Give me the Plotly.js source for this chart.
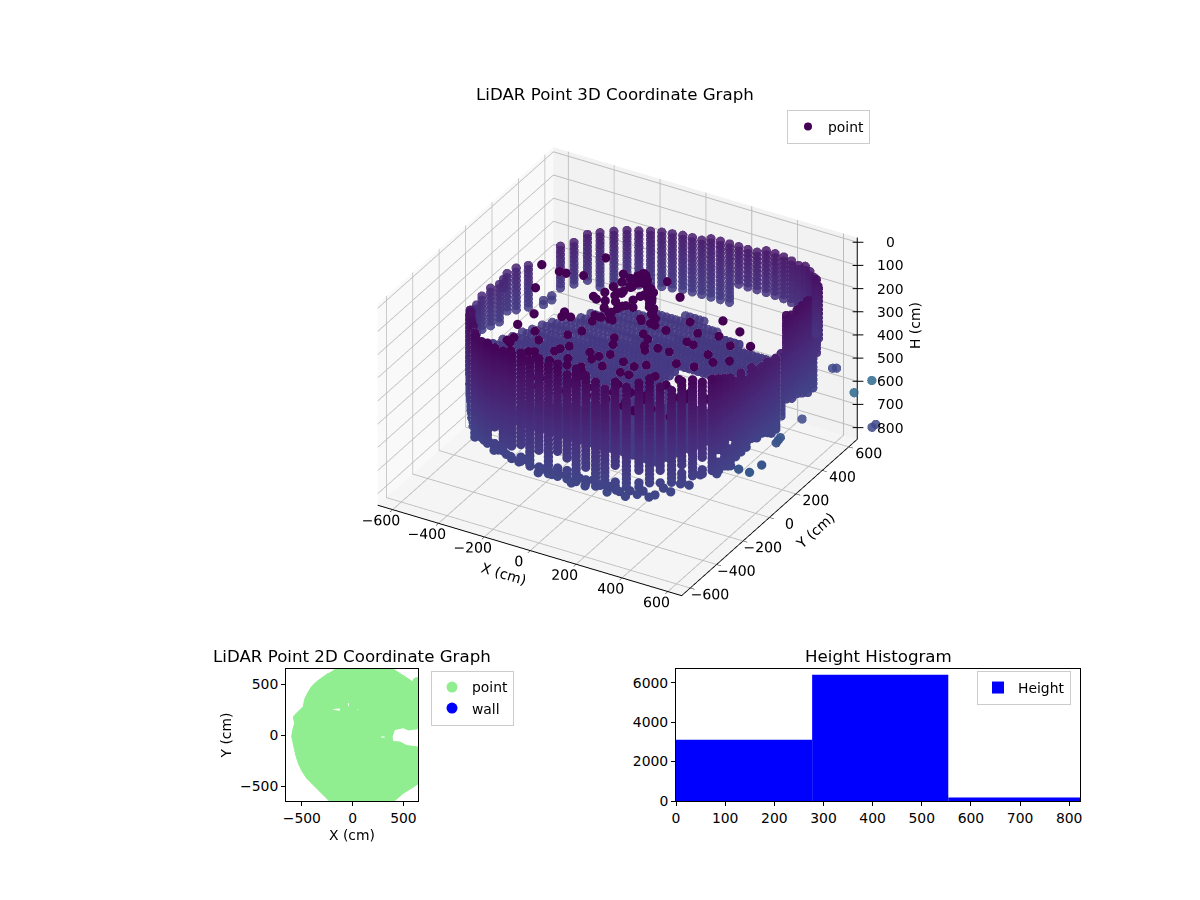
<!DOCTYPE html>
<html>
<head>
<meta charset="utf-8">
<script src="https://cdn.plot.ly/plotly-3.0.1.min.js"></script>
<style>body { margin: 0; background: #fff; }</style>
</head>
<body>
<div id="graphDiv" style="width:1200px;height:900px"></div>
<script>
// wall columns, one x/y per scan column
var wallX = [-320,-290,-250,-210,-170,-130,-90,-50,-10,30,70,110,150,190,230,270,310,350,390,430,465,500,535,565,595,620,640,645,648,650,650,650,650,650,
    650,650,650,650,650,650,650,650,640,625,600,570,540,505,470,430,390,350,310,270,230,190,150,110,70,30,-10,-50,-90,-130,-170,-210,-250,-290,-330,-370,-405,-435,-465,-480,-490,-530,-560,-585,-575,-570,-585,-600,-600,-595,-585,-560,-530,-510,-490,-465,-440,-415,-385,-350,650,650,650,650];
var wallY = [-530,-575,-600,-625,-640,-645,-650,-650,-652,-652,-650,-650,-648,-648,-645,-640,-640,-630,-615,-590,-570,-550,-525,-500,-470,-440,-400,-360,-320,-280,-240,-200,-160,-120,
    65,105,145,185,225,265,305,345,390,430,470,510,545,575,600,620,635,645,650,652,652,652,652,652,652,650,650,648,645,635,625,610,590,570,540,505,470,420,370,330,285,240,200,175,130,90,50,10,-30,-70,-110,-145,-190,-235,-270,-310,-355,-395,-440,-490,-80,-40,0,30];
var wallTop = [57,48,39,36,34,28,30,18,20,10,32,14,39,18,27,50,57,35,54,30,16,45,58,25,30,50,41,60,75,100,144,126,167,144,
    195,190,50,55,61,66,71,76,83,89,96,103,110,116,122,128,133,137,141,144,147,150,153,156,159,162,165,167,170,172,173,174,175,175,174,176,180,185,195,205,215,220,230,235,241,243,245,258,273,280,287,250,213,180,153,130,108,95,85,70,170,175,180,190];
var wallBottom = [530,502,480,470,470,480,493,498,502,508,511,515,520,512,507,505,502,495,488,486,484,480,475,468,461,463,465,470,475,475,475,475,475,452,
    516,470,424,447,447,456,470,470,342,323,310,342,374,401,400,330,330,330,330,330,330,330,330,420,420,420,420,420,420,420,420,420,420,420,420,420,385,385,385,420,420,420,420,420,420,420,420,420,420,420,550,548,557,548,530,511,497,511,520,520,470,480,490,505];
var scanLevels = [0,18,36,54,72,90,108,126,144,162,180,198,216,234,252,270,288,306,324,342,360,378,396,414,432,450,468,486,504,522,540,558];
// gaps in the wall: column index, from height, to height
var wallGapCol = [78,73,74,4,7,9,11,14,17,19,21,23,25,27,29,6,12];
var wallGapFrom = [290,205,215,380,420,430,400,440,410,430,420,400,380,380,370,440,430];
var wallGapTo = [600,390,380,440,460,470,450,480,450,460,455,430,420,415,410,470,460];

// the flat ring/floor seen through the wall, one row per y
var discRowY = [-480,-440,-400,-360,-320,-280,-240,-200,-160,-120,-80,-40,0,40,80,120,160,200,240,280,320,360,400,440];
var discRowStart = [-300,-360,-400,-440,-470,-490,-500,-510,-510,-510,-500,-490,-470,-450,-420,-400,-380,-350,-310,-280,-240,-200,-60,40];
var discRowEnd = [450,480,510,530,550,560,570,580,590,590,340,240,200,200,200,400,590,580,570,550,530,330,200,120];
var discRowH = [430,425,420,415,412,408,405,400,402,398,400,396,398,394,396,392,395,390,392,388,390,386,388,385];
var discStepX = [-560,-540,-520,-500,-480,-460,-440,-420,-400,-380,-360,-340,-320,-300,-280,-260,-240,-220,-200,-180,-160,-140,-120,-100,-80,-60,-40,-20,0,20,40,60,80,100,120,140,160,180,200,220,240,260,280,300,320,340,360,380,400,420,440,460,480,500,520,540,560,580,600];

// loose points above the floor
var looseX = [-460,-430,-400,-390,-360,-340,-300,-280,-250,-220,-200,-170,-150,-120,-90,-60,-30,0,30,60,90,120,150,180,210,240,270,300,330,360,390,420,-420,-380,-330,-290,-240,-190,-140,-90,-40,10,60,110,160,210,260,310,360,410,450,-350,-300,-250,-200,-150,-100,-50,0,50,100,150,200,250,300,350,400,-280,-220,-160,-100,-40,20,80,140,200,260,320,
    -130,-110,-90,-70,-50,-30,-10,10,30,50,70,90,110,130,-120,-95,-70,-45,-20,5,30,55,80,105,-100,-70,-40,-10,20,50,80,-130,-105,-80,-55,-30,
    -60,-35,-15,15,40,65,95,120,-85,-50,-25,0,25,60,85,-110,-75,-60,-5,40,75,100,
    -339,-379,-219,-270,-135,-160,-216,-16,-27,68,-2,112,182,132,236,136,275,255,225,354,339,439,383,463];
var looseY = [220,120,300,40,180,-40,260,80,340,-100,160,20,300,-180,90,-260,220,-60,320,140,-140,260,40,-220,180,-300,100,-60,220,-160,40,120,-60,-160,-240,-120,-300,-40,-360,10,-200,-320,-420,-110,-280,-400,-240,-340,-80,-200,-120,-380,-440,-200,-480,-120,-420,-520,-280,-480,-360,-500,-440,-380,-480,-360,-300,60,0,100,-40,40,140,60,-30,40,-90,20,
    60,90,120,150,180,200,210,190,170,140,110,80,60,40,110,140,160,185,200,215,195,160,130,100,40,70,100,130,160,180,130,30,50,70,90,110,
    130,155,175,180,150,125,95,70,150,175,195,205,180,150,115,85,110,60,120,100,60,50,
    -253,-103,-300,-133,-286,-162,14,-252,-154,-238,-36,-155,-195,-28,-129,125,-37,78,211,66,173,80,256,198];
var looseH = [200,240,260,300,180,320,220,280,170,340,230,300,190,330,260,350,210,310,180,260,320,190,290,340,230,360,270,330,210,340,280,240,360,320,300,380,280,340,300,380,330,260,240,340,280,240,320,270,360,310,340,250,240,300,230,340,260,230,290,240,270,220,250,280,230,290,340,290,320,270,340,300,260,310,330,290,350,310,
    170,150,135,125,118,112,110,112,118,125,135,150,165,180,200,185,170,155,140,130,145,165,185,205,230,215,195,175,160,150,190,250,235,220,205,195,
    160,140,125,125,145,165,190,215,175,150,130,125,140,170,205,215,190,240,200,225,260,270,
    250,270,240,290,260,280,250,270,290,250,280,260,240,270,300,260,280,250,290,270,250,280,260,270];

// scattered low points behind the front wall
var strayX = [640,620,600,580,560,540,520,500,480,460,440,420,400,380,360,340,320,290,260,230,200,170,140,110,80,50,20,-10,-40,-70,-100,-130,-160,-190,-220,-250,-280,620,590,560,530,500,620,600,580];
var strayY = [-260,-330,-420,-470,-500,-540,-560,-590,-600,-610,-620,-640,-640,-650,-640,-650,-640,-640,-640,-650,-640,-650,-640,-650,-640,-650,-640,-650,-640,-630,-640,-620,-630,-610,-600,-580,-570,10,-30,-60,-90,-20,120,170,220];
var strayH = [500,505,470,495,480,500,480,500,510,485,500,480,510,490,495,480,515,495,480,510,490,515,495,480,510,490,520,495,480,505,485,495,480,500,475,490,480,640,660,640,620,620,600,620,640];

// points outside the box limits, drawn on the wider overlay scene
var outerX = [620,633,695,708,746,736,554];
var outerY = [547,555,580,691,655,644,431];
var outerH = [495,495,595,595,755,765,675];
var outerC = [550,550,850,850,550,550,550];

var zTicks = [0,100,200,300,400,500,600,700,800];
var zTickText = ['0','100','200','300','400','500','600','700','800'];

// 2D footprint outline and the holes in it
var footprintX = [-190,-130,384,430,466,515,564,610,663,720,720,646,600,550,499,440,384,-207,-265,-322,-390,-453,-500,-535,-560,-577,-592,-600,-590,-571,-578,-584,-570,-551,-515,-486,-478,-469,-440,-404,-350,-289,-240];
var footprintY = [640,660,660,632,610,580,545,505,446,446,-480,-478,-510,-540,-571,-620,-669,-669,-610,-554,-490,-423,-350,-276,-195,-112,-60,-13,50,118,150,177,200,217,250,282,325,364,420,479,530,577,610];
var holeX = [394,417,499,548,646,696,696,646,531,466,400,null,-190,-125,-125,-190,null,-45,-35,-38,-46,null,40,60,50,null,280,315,315,285];
var holeY = [-13,52,69,46,59,59,-112,-112,-95,-62,-56,null,259,262,240,250,null,315,315,285,288,null,259,255,250,null,-13,-13,-25,-22];
var pointX = [640];
var pointY = [520];
var wallLegendX = [null];
var wallLegendY = [null];

// height histogram
var histLeft = [0,277,554];
var histWidth = [277,277,277];
var histCount = [3110,6410,180];

var bands = [{x: [], y: [], h: [], op: 0.85}, {x: [], y: [], h: [], op: 0.95}, {x: [], y: [], h: [], op: 1}];

function addPoint(x, y, h) {
    var depth = x * 0.5 - y * 0.866;
    var b = depth < -200 ? 0 : (depth < 250 ? 1 : 2);
    bands[b].x.push(x);
    bands[b].y.push(y);
    bands[b].h.push(h);
}

function inGap(col, h) {
    for (var g = 0; g < wallGapCol.length; g++) {
        if (wallGapCol[g] == col && h >= wallGapFrom[g] && h <= wallGapTo[g]) {
            return true;
        }
    }
    return false;
}

for (var r = 0; r < discRowY.length; r++) {
    for (var s = 0; s < discStepX.length; s++) {
        if (discStepX[s] >= discRowStart[r] && discStepX[s] <= discRowEnd[r]) {
            addPoint(discStepX[s], discRowY[r], discRowH[r]);
        }
    }
}
for (var c = 0; c < wallX.length; c++) {
    for (var l = 0; l < scanLevels.length; l++) {
        if (scanLevels[l] >= wallTop[c] && scanLevels[l] <= wallBottom[c] && !inGap(c, scanLevels[l])) {
            addPoint(wallX[c], wallY[c], scanLevels[l]);
        }
    }
}
for (var k = 0; k < strayX.length; k++) {
    addPoint(strayX[k], strayY[k], strayH[k]);
}

var markerSize = 5.4;
var data = [];
for (var i = 0; i < bands.length; i++) {
    data.push({
        type: 'scatter3d',
        mode: 'markers',
        showlegend: false,
        x: bands[i].x,
        y: bands[i].y,
        z: bands[i].h,
        marker: {
            size: markerSize,
            color: bands[i].h,
            colorscale: 'Viridis',
            cmin: 0,
            cmax: 2400,
            opacity: bands[i].op,
            line: {width: 0}
        }
    });
}
data.push({
    type: 'scatter3d', mode: 'markers', showlegend: false,
    x: looseX, y: looseY, z: looseH,
    marker: {size: markerSize, color: '#440154', line: {width: 0}}
});
// legend holder, sits inside the dark clump
data.push({
    type: 'scatter3d', mode: 'markers', name: 'point', legend: 'legend',
    x: looseX.slice(84, 85), y: looseY.slice(84, 85), z: looseH.slice(84, 85),
    marker: {size: 8, color: '#440154', line: {width: 0}}
});
data.push({
    type: 'scatter3d', mode: 'markers', showlegend: false, scene: 'scene2',
    x: outerX, y: outerY, z: outerH,
    marker: {size: markerSize, color: outerC, colorscale: 'Viridis', cmin: 0, cmax: 2500, opacity: 0.85, line: {width: 0}}
});
// z axis on the right hand corner, the library puts its own on the other side
var zLineX = [660, 660, null], zLineY = [665, 665, null], zLineZ = [-20, 850, null];
for (var t = 0; t < zTicks.length; t++) {
    zLineX.push(645, 680, null);
    zLineY.push(656, 677, null);
    zLineZ.push(zTicks[t], zTicks[t], null);
}
data.push({
    type: 'scatter3d', mode: 'lines', showlegend: false, scene: 'scene2',
    x: zLineX, y: zLineY, z: zLineZ, line: {color: 'black', width: 2}
});
data.push({
    type: 'scatter', mode: 'lines', x: footprintX, y: footprintY, fill: 'toself', fillcolor: 'lightgreen',
    line: {color: 'lightgreen', width: 1}, xaxis: 'x', yaxis: 'y', showlegend: false, hoverinfo: 'skip'
});
data.push({
    type: 'scatter', mode: 'lines', x: holeX, y: holeY, fill: 'toself', fillcolor: 'white',
    line: {color: 'white', width: 0}, xaxis: 'x', yaxis: 'y', showlegend: false, hoverinfo: 'skip'
});
data.push({
    type: 'scatter', mode: 'markers', name: 'point', x: pointX, y: pointY, xaxis: 'x', yaxis: 'y', legend: 'legend2',
    marker: {color: 'lightgreen', size: 11}
});
data.push({
    type: 'scatter', mode: 'markers', name: 'wall', x: wallLegendX, y: wallLegendY, xaxis: 'x', yaxis: 'y', legend: 'legend2',
    marker: {color: 'blue', size: 11}
});
data.push({
    type: 'bar', name: 'Height', x: histLeft, y: histCount, width: histWidth, offset: 0, xaxis: 'x2', yaxis: 'y2', legend: 'legend3',
    marker: {color: 'blue', line: {width: 0}}, showlegend: true
});

var fontFamily = '"DejaVu Sans", sans-serif';

function sceneAxis(title, range, ticks, pane) {
    return {
        title: {text: title, font: {size: 14, color: 'black'}},
        range: range,
        autorange: false,
        tickmode: 'array',
        tickvals: ticks,
        tickangle: 0,
        tickfont: {size: 13, color: 'black'},
        backgroundcolor: pane,
        showbackground: true,
        gridcolor: '#bcbcbc',
        gridwidth: 2,
        showline: true,
        linecolor: 'black',
        linewidth: 2,
        ticks: 'outside',
        ticklen: 5,
        tickcolor: 'black',
        zeroline: false,
        showspikes: false
    };
}

function hiddenAxis(range) {
    return {range: range, autorange: false, visible: false, showspikes: false};
}

function planeAxis(domain, anchor, ticks, range, title) {
    var ax = {
        domain: domain,
        anchor: anchor,
        range: range,
        tickmode: 'array',
        tickvals: ticks,
        ticks: 'outside',
        ticklen: 4,
        tickwidth: 1,
        tickcolor: 'black',
        showgrid: false,
        zeroline: false,
        showline: true,
        mirror: true,
        linecolor: 'black',
        linewidth: 1,
        tickfont: {size: 13.9, color: 'black'}
    };
    if (title) {
        ax.title = {text: title, font: {size: 13.9, color: 'black'}, standoff: 5};
    }
    return ax;
}

var legendBase = {
    bgcolor: 'rgba(255,255,255,0.8)',
    bordercolor: '#cccccc',
    borderwidth: 1,
    xanchor: 'left',
    yanchor: 'middle',
    font: {size: 13.9, color: 'black'},
    itemsizing: 'trace'
};

var camera = {
    eye: {x: 1.764, y: -3.129, z: 1.953},
    center: {x: -0.034, y: -0.019, z: -0.204},
    up: {x: 0, y: 0, z: 1},
    projection: {type: 'orthographic'}
};

var zAnnotations = [];
for (var a = 0; a < zTicks.length; a++) {
    zAnnotations.push({x: 770, y: 729, z: zTicks[a], text: zTickText[a], showarrow: false, font: {size: 13.9, color: 'black'}});
}

function paperText(text, px, py, size, angle) {
    return {text: text, xref: 'paper', yref: 'paper', x: px / 1200, y: 1 - py / 900, xanchor: 'center', yanchor: 'middle',
        showarrow: false, textangle: angle, font: {size: size, color: 'black'}};
}

var layout = {
    width: 1200,
    height: 900,
    margin: {l: 0, r: 0, t: 0, b: 0},
    paper_bgcolor: 'white',
    plot_bgcolor: 'white',
    font: {family: fontFamily, color: 'black', size: 13.9},
    barmode: 'overlay',
    scene: {
        domain: {x: [0, 1], y: [0, 1]},
        bgcolor: 'rgba(0,0,0,0)',
        aspectmode: 'manual',
        aspectratio: {x: 0.78, y: 0.78, z: 0.5226},
        camera: camera,
        xaxis: sceneAxis('X (cm)', [-665, 660], [-600,-400,-200,0,200,400,600], '#f9f9f9'),
        yaxis: sceneAxis('Y (cm)', [-665, 665], [-600,-400,-200,0,200,400,600], '#f2f2f2'),
        zaxis: Object.assign(sceneAxis('', [850, -20], zTicks, '#f5f5f5'), {showticklabels: false, ticks: '', showline: false, title: {text: ''}})
    },
    scene2: {
        domain: {x: [0, 1], y: [0, 1]},
        bgcolor: 'rgba(0,0,0,0)',
        aspectmode: 'manual',
        aspectratio: {x: 1.177, y: 1.173, z: 0.783},
        camera: camera,
        xaxis: hiddenAxis([-1002.5, 997.5]),
        yaxis: hiddenAxis([-1000, 1000]),
        zaxis: hiddenAxis([1067, -237]),
        annotations: zAnnotations
    },
    xaxis: planeAxis([286 / 1200, 418 / 1200], 'y', [-500, 0, 500], [-656, 644], 'X (cm)'),
    yaxis: planeAxis([0.11, 0.2567], 'x', [-500, 0, 500], [-647, 652], 'Y (cm)'),
    xaxis2: planeAxis([676 / 1200, 1080 / 1200], 'y2', [0,100,200,300,400,500,600,700,800], [0, 822]),
    yaxis2: planeAxis([0.11, 0.2567], 'x2', [0,2000,4000,6000], [0, 6700]),
    legend: Object.assign({}, legendBase, {x: 787 / 1200, y: 1 - 127 / 900}),
    legend2: Object.assign({}, legendBase, {x: 431 / 1200, y: 1 - 698 / 900}),
    legend3: Object.assign({}, legendBase, {x: 977 / 1200, y: 1 - 688 / 900}),
    annotations: [
        paperText('LiDAR Point 3D Coordinate Graph', 615, 95, 16.67, 0),
        paperText('LiDAR Point 2D Coordinate Graph', 352, 656, 16.67, 0),
        paperText('Height Histogram', 878, 656, 16.67, 0),
        paperText('H (cm)', 915, 326, 13.9, -90)
    ]
};

Plotly.newPlot('graphDiv', data, layout, {displayModeBar: false});
</script>
</body>
</html>
